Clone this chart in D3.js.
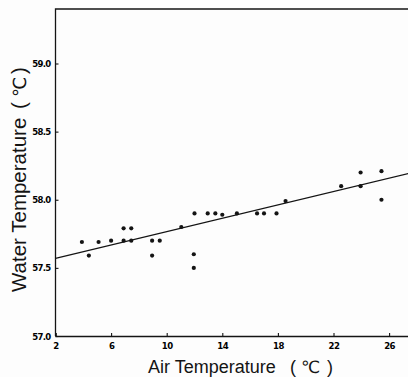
<!DOCTYPE html>
<html>
<head>
<meta charset="utf-8">
<script src="https://cdn.jsdelivr.net/npm/d3@7"></script>
<style>
  html, body { margin: 0; padding: 0; background: #fdfdfd; }
  svg { display: block; }
</style>
</head>
<body>
<svg id="chart" width="408" height="377"></svg>
<script>
// Air temperature (°C) of each observation
const airTemp = [3.9, 4.4, 5.1, 6.0, 6.9, 7.45, 6.9, 7.45, 8.95, 9.5, 8.95,
                 11.05, 12.0, 12.95, 13.5, 14.0, 15.05, 16.5, 17.0, 17.9,
                 11.95, 11.95, 18.55, 22.55, 23.95, 23.95, 25.45, 25.45];
// Water temperature (°C) of each observation
const waterTemp = [57.69, 57.59, 57.69, 57.70, 57.79, 57.79, 57.70, 57.70, 57.70, 57.70, 57.59,
                   57.80, 57.90, 57.90, 57.90, 57.89, 57.90, 57.90, 57.90, 57.90,
                   57.60, 57.50, 57.99, 58.10, 58.20, 58.10, 58.21, 58.00];
// Regression line end points
const fitX = [2, 28];
const fitY = [57.57, 58.207];
// Tick values and labels
const xTicks = [2, 6, 10, 14, 18, 22, 26];
const yTicks = [57.0, 57.5, 58.0, 58.5, 59.0];
const yTickLabels = ["57.0", "57.5", "58.0", "58.5", "59.0"];
// Axis titles: words, then the unit in spaced parentheses
const xTitleParts = ["Air Temperature", "(", "℃", ")"];
const yTitleParts = ["Water Temperature", "(", "℃", ")"];

const svg = d3.select("#chart");
const ink = "#141414";

const x = d3.scaleLinear().domain([2, 28]).range([55.5, 55.5 + 26 * 13.9]);
const y = d3.scaleLinear().domain([57, 59.4]).range([336, 9]);

// frame: left axis, top border
svg.append("path")
  .attr("d", `M${x(2)},${y(57)}V${y(59.4)}H${x(28)}`)
  .attr("fill", "none").attr("stroke", ink).attr("stroke-width", 1.3);

const tickFont = sel => sel
  .attr("fill", "#000")
  .style("font-family", "'DejaVu Sans Condensed', 'DejaVu Sans'")
  .style("font-weight", "bold")
  .style("font-size", "9.5px");

// bottom axis
const xAxis = d3.axisBottom(x).tickValues(xTicks).tickSize(-3).tickPadding(6)
  .tickFormat(d3.format("d"));
const gx = svg.append("g").attr("transform", `translate(0,${y(57)})`).call(xAxis);
gx.select(".domain").attr("stroke", ink).attr("stroke-width", 1.3);
gx.selectAll(".tick line").attr("stroke", ink).attr("stroke-width", 1.1);
gx.selectAll(".tick text").call(tickFont).style("letter-spacing", "-0.5px");

// left axis
const yAxis = d3.axisLeft(y).tickValues(yTicks).tickSize(-3).tickPadding(5)
  .tickFormat((d, i) => yTickLabels[i]);
const gy = svg.append("g").attr("transform", `translate(${x(2)},0)`).call(yAxis);
gy.select(".domain").remove();
gy.selectAll(".tick line").attr("stroke", ink).attr("stroke-width", 1.1);
gy.selectAll(".tick text").call(tickFont).style("letter-spacing", "-0.7px");

// regression line
const line = d3.line().x(d => x(d[0])).y(d => y(d[1]));
svg.append("path")
  .datum(d3.zip(fitX, fitY))
  .attr("d", line)
  .attr("fill", "none").attr("stroke", ink).attr("stroke-width", 1.2);

// points
svg.append("g").selectAll("circle")
  .data(d3.zip(airTemp, waterTemp))
  .join("circle")
  .attr("cx", d => x(d[0]))
  .attr("cy", d => y(d[1]))
  .attr("r", 2.1)
  .attr("fill", ink);

// titles
const titleFont = "'Liberation Sans', 'DejaVu Sans'";
const xt = svg.append("text")
  .attr("y", 373)
  .attr("fill", ink)
  .style("font-family", titleFont)
  .style("font-size", "18px");
const xOffsets = [148, 290, 301, 327];
xt.selectAll("tspan").data(xTitleParts).join("tspan")
  .attr("x", (d, i) => xOffsets[i])
  .style("font-family", (d, i) => i === 2 ? "'DejaVu Sans'" : null)
  .style("font-size", (d, i) => i === 2 ? "17px" : null)
  .text(d => d);

const yt = svg.append("text")
  .attr("transform", "translate(26,292) rotate(-90)")
  .attr("fill", ink)
  .style("font-family", titleFont)
  .style("font-size", "20.5px");
const yOffsets = [0, 183, 195, 218];
yt.selectAll("tspan").data(yTitleParts).join("tspan")
  .attr("x", (d, i) => yOffsets[i])
  .style("font-family", (d, i) => i === 2 ? "'DejaVu Sans'" : null)
  .style("font-size", (d, i) => i === 2 ? "18px" : null)
  .text(d => d);
</script>
</body>
</html>
